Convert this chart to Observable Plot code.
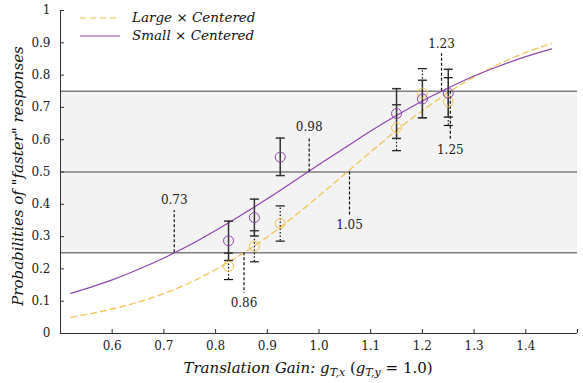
<!DOCTYPE html>
<html><head><meta charset="utf-8">
<style>body{margin:0;background:#fff;} svg{display:block}</style>
<script src="https://cdn.jsdelivr.net/npm/d3@7"></script>
<script src="https://cdn.jsdelivr.net/npm/@observablehq/plot@0.6"></script>
</head><body><div id="chart"></div>
<script>
// ---- data ----
const xTicks = [0.5, 0.6, 0.7, 0.8, 0.9, 1.0, 1.1, 1.2, 1.3, 1.4, 1.5];
const yTicks = [0, 0.1, 0.2, 0.3, 0.4, 0.5, 0.6, 0.7, 0.8, 0.9, 1];
const bandLevels = [0.25, 0.5, 0.75];

const gains = [0.825, 0.875, 0.925, 1.15, 1.2, 1.25];
const largeMean = [0.208, 0.270, 0.341, 0.637, 0.744, 0.718];
const largeLow  = [0.167, 0.222, 0.286, 0.566, 0.668, 0.644];
const largeHigh = [0.249, 0.318, 0.395, 0.708, 0.820, 0.792];
const smallMean = [0.287, 0.359, 0.546, 0.681, 0.726, 0.744];
const smallLow  = [0.226, 0.302, 0.489, 0.604, 0.668, 0.670];
const smallHigh = [0.348, 0.416, 0.605, 0.758, 0.784, 0.818];

const curveX     = [0.52, 0.55, 0.60, 0.65, 0.70, 0.75, 0.80, 0.85, 0.90, 0.95, 1.00, 1.05, 1.10, 1.15, 1.20, 1.25, 1.30, 1.35, 1.40, 1.45];
const largeCurve = [0.050, 0.059, 0.076, 0.097, 0.124, 0.157, 0.198, 0.245, 0.299, 0.360, 0.426, 0.494, 0.562, 0.629, 0.690, 0.746, 0.794, 0.836, 0.870, 0.898];
const smallCurve = [0.124, 0.139, 0.166, 0.198, 0.234, 0.274, 0.319, 0.367, 0.417, 0.470, 0.523, 0.575, 0.627, 0.675, 0.720, 0.760, 0.797, 0.829, 0.857, 0.881];

const thresholdX     = [0.720, 0.855, 0.981, 1.059, 1.237, 1.254];
const thresholdText  = ["0.73", "0.86", "0.98", "1.05", "1.23", "1.25"];
const thresholdLevel = [0.25, 0.25, 0.5, 0.5, 0.75, 0.75];
const thresholdEnd   = [0.381, 0.124, 0.608, 0.366, 0.866, 0.598];

const seriesNames = ["Large × Centered", "Small × Centered"];

// ---- build tables ----
const ORANGE = "#f3c14c", PURPLE = "#8e44ad";
const FONT = "DejaVu Serif, Liberation Serif, serif";
const pts = gains.map((g, i) => ({g, lm: largeMean[i], ll: largeLow[i], lh: largeHigh[i],
  sm: smallMean[i], sl: smallLow[i], sh: smallHigh[i]}));
const largeLine = curveX.map((x, i) => ({x, y: largeCurve[i]}));
const smallLine = curveX.map((x, i) => ({x, y: smallCurve[i]}));
const thr = thresholdX.map((x, i) => ({x, text: thresholdText[i], level: thresholdLevel[i], end: thresholdEnd[i],
  up: thresholdEnd[i] > thresholdLevel[i]}));
const band = [{lo: bandLevels[0], hi: bandLevels[bandLevels.length - 1]}];
const cap = {draw(ctx) { ctx.moveTo(-4.5, 0); ctx.lineTo(4.5, 0); }};
const x0 = xTicks[0], x1 = xTicks[xTicks.length - 1];

const chart = Plot.plot({
  width: 583, height: 383,
  marginLeft: 60, marginRight: 6, marginTop: 10, marginBottom: 50,
  style: {fontFamily: FONT, fontSize: "12px", background: "#fff", color: "#222"},
  x: {domain: [x0, x1], label: null},
  y: {domain: [yTicks[0], yTicks[yTicks.length - 1]], label: null},
  marks: [
    Plot.rect(band, {x1: () => x0, x2: () => x1, y1: "lo", y2: "hi", fill: "#f3f3f3"}),
    Plot.ruleY(bandLevels, {stroke: "#7f7f7f", strokeWidth: 1.5}),
    Plot.line(largeLine, {x: "x", y: "y", stroke: ORANGE, strokeWidth: 1.2, strokeDasharray: "6,4", curve: "monotone-x"}),
    Plot.line(smallLine, {x: "x", y: "y", stroke: PURPLE, strokeWidth: 1.2, curve: "monotone-x"}),
    Plot.ruleX(thr, {x: "x", y1: "level", y2: "end", stroke: "#111", strokeWidth: 1.2, strokeDasharray: "3,2"}),
    Plot.text(thr.filter(d => d.up), {x: "x", y: "end", text: "text", dy: -10, fill: "#222"}),
    Plot.text(thr.filter(d => !d.up), {x: "x", y: "end", text: "text", dy: 10, fill: "#222"}),
    // Large error bars (dotted)
    Plot.ruleX(pts, {x: "g", y1: "ll", y2: "lh", stroke: "#111", strokeWidth: 1.2, strokeDasharray: "1.5,2"}),
    Plot.dot(pts, {x: "g", y: "ll", symbol: cap, stroke: "#111", strokeWidth: 1.2, r: 3}),
    Plot.dot(pts, {x: "g", y: "lh", symbol: cap, stroke: "#111", strokeWidth: 1.2, r: 3}),
    // Small error bars (solid)
    Plot.ruleX(pts, {x: "g", y1: "sl", y2: "sh", stroke: "#333", strokeWidth: 1.5}),
    Plot.dot(pts, {x: "g", y: "sl", symbol: cap, stroke: "#333", strokeWidth: 1.5, r: 3}),
    Plot.dot(pts, {x: "g", y: "sh", symbol: cap, stroke: "#333", strokeWidth: 1.5, r: 3}),
    Plot.dot(pts, {x: "g", y: "lm", r: 5, stroke: ORANGE, strokeWidth: 1, fill: "none"}),
    Plot.dot(pts, {x: "g", y: "sm", r: 5, stroke: PURPLE, strokeWidth: 1, fill: "none"}),
    // axes
    Plot.ruleY([yTicks[0]], {stroke: "#333"}),
    Plot.ruleX([x0], {stroke: "#333"}),
    Plot.axisX({ticks: xTicks, tickSize: 4, dy: -4, tickFormat: () => "", stroke: "#333", label: null}),
    Plot.axisX({ticks: xTicks, tickSize: 0, tickPadding: 8, label: null,
      tickFormat: d => (d === x0 || d === x1) ? "" : d.toFixed(1)}),
    Plot.axisY({ticks: yTicks, tickSize: 4, dx: 4, tickFormat: () => "", stroke: "#333", label: null}),
    Plot.axisY({ticks: yTicks, tickSize: 0, tickPadding: 10, label: null,
      tickFormat: d => (d === 0 || d === 1) ? String(d) : d.toFixed(1)})
  ]
});
document.getElementById("chart").appendChild(chart);

// ---- axis titles and legend ----
const svg = d3.select(chart);
svg.append("text")
  .attr("transform", "translate(19,176) rotate(-90)")
  .attr("text-anchor", "middle").attr("dominant-baseline", "middle")
  .style("font-family", FONT).style("font-style", "italic").style("font-size", "15px").attr("fill", "#111")
  .text('Probabilities of "faster" responses');

const xt = svg.append("text")
  .attr("x", 308).attr("y", 373).attr("text-anchor", "middle")
  .style("font-family", FONT).style("font-size", "15px").attr("fill", "#111");
xt.append("tspan").style("font-style", "italic").text("Translation Gain: g");
xt.append("tspan").style("font-style", "italic").style("font-size", "11px").attr("dy", 3).text("T,x");
xt.append("tspan").attr("dy", -3).text(" (");
xt.append("tspan").style("font-style", "italic").text("g");
xt.append("tspan").style("font-style", "italic").style("font-size", "11px").attr("dy", 3).text("T,y");
xt.append("tspan").attr("dy", -3).text(" = 1.0)");

const leg = svg.append("g").attr("text-anchor", "start")
  .style("font-family", FONT).style("font-style", "italic").style("font-size", "13.5px");
[[seriesNames[0], ORANGE, "6,4", 18], [seriesNames[1], PURPLE, null, 36]].forEach(([name, col, dash, yy]) => {
  leg.append("line").attr("x1", 80).attr("x2", 120).attr("y1", yy).attr("y2", yy)
    .attr("stroke", col).attr("stroke-width", 1.2).attr("stroke-dasharray", dash);
  leg.append("text").attr("x", 132).attr("y", yy).attr("text-anchor", "start")
    .attr("dominant-baseline", "middle").attr("fill", "#111").text(name);
});
</script>
</body></html>
